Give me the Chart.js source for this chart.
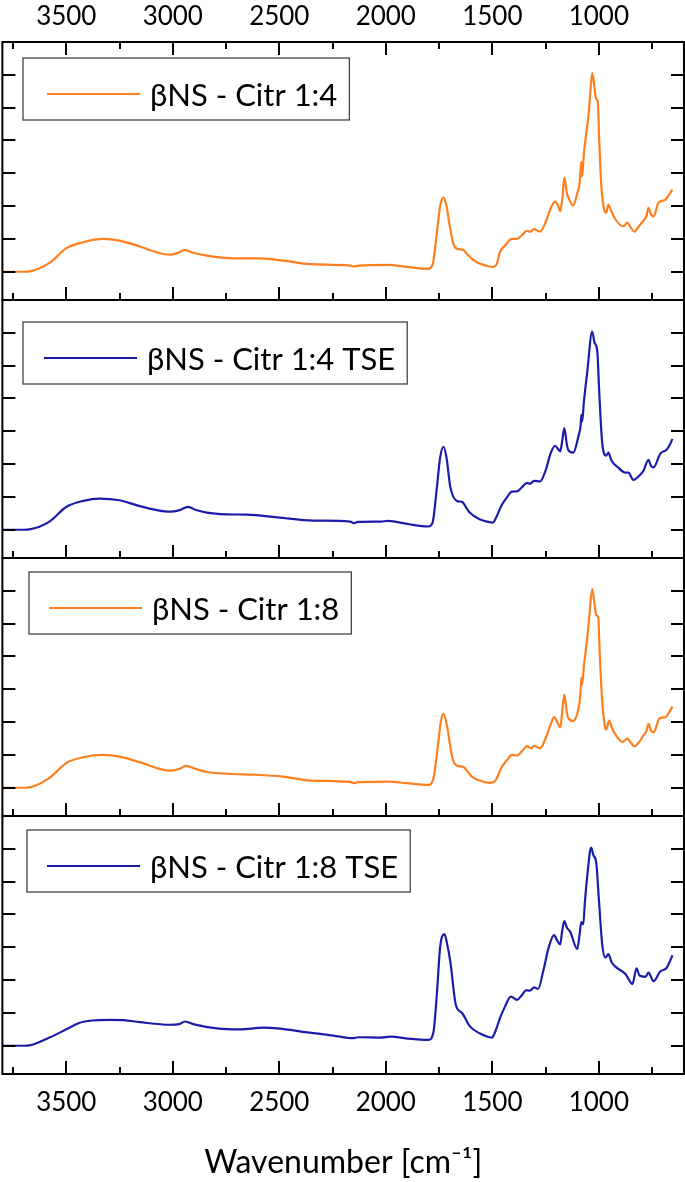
<!DOCTYPE html>
<html>
<head>
<meta charset="utf-8">
<script src="https://cdn.jsdelivr.net/npm/chart.js@4/dist/chart.umd.min.js"></script>
<style>
  html, body { margin: 0; padding: 0; background: #fff; }
  #contenedor { position: relative; width: 685px; height: 1182px; }
</style>
</head>
<body>
<div id="contenedor"><canvas id="graficoFTIR"></canvas></div>
<script>
// Espectros FTIR (numero de onda en cm-1, intensidad en unidades de tick)
const etiquetas = ["βNS - Citr 1:4", "βNS - Citr 1:4 TSE", "βNS - Citr 1:8", "βNS - Citr 1:8 TSE"];

const ondaCitr14 = [3800, 3700, 3673, 3579, 3499, 3420, 3329, 3250, 3155, 3075, 3014, 2967, 2943, 2905, 2840, 2717, 2590, 2482, 2355, 2167, 2150, 2130, 1993, 1900, 1804, 1781, 1760, 1745, 1729, 1715, 1700, 1684, 1666, 1638, 1620, 1591, 1560, 1525, 1497, 1480, 1464, 1440, 1408, 1384, 1360, 1337, 1323, 1304, 1276, 1250, 1225, 1205, 1190, 1181, 1170, 1162, 1150, 1134, 1120, 1101, 1090, 1082, 1078, 1070, 1054, 1045, 1031, 1020, 1012, 1005, 998, 988, 975, 965, 955, 945, 922, 885, 866, 850, 833, 810, 790, 776, 767, 755, 743, 720, 687, 670, 655];
const valCitr14 = [0, 0, 0.01, 0.27, 0.72, 0.9, 1.0, 0.95, 0.77, 0.59, 0.52, 0.6, 0.67, 0.58, 0.49, 0.41, 0.41, 0.34, 0.23, 0.19, 0.16, 0.19, 0.21, 0.15, 0.09, 0.2, 1.2, 2.0, 2.26, 2.0, 1.4, 0.88, 0.7, 0.67, 0.55, 0.37, 0.25, 0.18, 0.15, 0.22, 0.6, 0.8, 1.0, 1.0, 1.12, 1.25, 1.22, 1.3, 1.22, 1.5, 1.95, 2.14, 2.0, 1.84, 2.3, 2.87, 2.4, 2.14, 2.02, 2.4, 2.7, 3.36, 2.9, 3.6, 4.45, 5.0, 6.05, 5.6, 5.26, 5.2, 4.0, 2.6, 1.9, 1.8, 2.05, 1.9, 1.6, 1.38, 1.5, 1.35, 1.22, 1.4, 1.56, 1.7, 1.95, 1.75, 1.68, 2.1, 2.2, 2.35, 2.5];

const ondaCitr14TSE = [3800, 3700, 3673, 3579, 3499, 3420, 3343, 3250, 3155, 3075, 3014, 2967, 2929, 2890, 2840, 2750, 2651, 2510, 2341, 2167, 2150, 2130, 2026, 1988, 1900, 1800, 1781, 1760, 1745, 1729, 1715, 1697, 1666, 1642, 1620, 1605, 1560, 1525, 1497, 1480, 1455, 1430, 1408, 1384, 1360, 1337, 1323, 1304, 1276, 1250, 1225, 1205, 1190, 1181, 1172, 1162, 1150, 1144, 1120, 1096, 1085, 1082, 1078, 1070, 1054, 1031, 1020, 1007, 998, 984, 965, 955, 940, 913, 875, 861, 838, 810, 790, 767, 755, 743, 711, 682, 670, 654];
const valCitr14TSE = [0, 0, 0.01, 0.25, 0.7, 0.88, 0.95, 0.9, 0.72, 0.6, 0.55, 0.6, 0.7, 0.6, 0.52, 0.47, 0.46, 0.38, 0.28, 0.25, 0.2, 0.24, 0.25, 0.27, 0.18, 0.1, 0.2, 1.3, 2.2, 2.53, 2.2, 1.3, 0.88, 0.85, 0.65, 0.52, 0.32, 0.25, 0.22, 0.4, 0.76, 1.0, 1.16, 1.17, 1.3, 1.43, 1.4, 1.49, 1.47, 1.8, 2.35, 2.56, 2.45, 2.39, 2.7, 3.1, 2.6, 2.44, 2.35, 2.84, 3.2, 3.5, 3.3, 3.9, 4.82, 6.04, 5.7, 5.43, 4.2, 2.65, 2.26, 2.35, 2.1, 1.92, 1.74, 1.74, 1.52, 1.65, 1.8, 2.13, 1.95, 1.9, 2.32, 2.44, 2.55, 2.77];

const ondaCitr18 = [3800, 3700, 3673, 3579, 3499, 3420, 3329, 3250, 3155, 3075, 3014, 2967, 2938, 2890, 2840, 2720, 2623, 2482, 2355, 2167, 2150, 2130, 2026, 1988, 1900, 1800, 1776, 1755, 1742, 1729, 1711, 1688, 1666, 1638, 1596, 1560, 1511, 1488, 1455, 1430, 1408, 1384, 1360, 1337, 1318, 1304, 1276, 1250, 1225, 1210, 1195, 1181, 1172, 1162, 1150, 1144, 1120, 1096, 1087, 1082, 1078, 1070, 1054, 1045, 1031, 1020, 1012, 1003, 995, 984, 972, 965, 951, 940, 922, 889, 866, 850, 833, 810, 790, 775, 767, 755, 743, 715, 687, 670, 654];
const valCitr18 = [0, 0, 0.01, 0.3, 0.76, 0.93, 1.0, 0.95, 0.78, 0.6, 0.52, 0.58, 0.67, 0.57, 0.48, 0.42, 0.4, 0.34, 0.22, 0.18, 0.14, 0.17, 0.18, 0.19, 0.14, 0.09, 0.3, 1.3, 2.0, 2.26, 1.83, 0.92, 0.67, 0.64, 0.34, 0.22, 0.15, 0.2, 0.64, 0.85, 1.0, 0.98, 1.12, 1.27, 1.2, 1.28, 1.2, 1.5, 1.95, 2.15, 2.0, 1.84, 2.3, 2.84, 2.3, 2.13, 2.03, 2.4, 2.8, 3.35, 3.15, 3.7, 4.58, 5.2, 6.05, 5.6, 5.26, 5.2, 4.0, 2.63, 1.9, 1.77, 2.05, 1.85, 1.62, 1.4, 1.5, 1.38, 1.26, 1.4, 1.6, 1.75, 1.95, 1.75, 1.69, 2.11, 2.15, 2.3, 2.47];

const ondaCitr18TSE = [3800, 3700, 3673, 3579, 3500, 3437, 3380, 3296, 3230, 3155, 3014, 2970, 2943, 2900, 2793, 2684, 2576, 2510, 2369, 2247, 2153, 2130, 2026, 1978, 1900, 1800, 1776, 1760, 1745, 1725, 1712, 1697, 1671, 1642, 1605, 1560, 1502, 1485, 1464, 1440, 1413, 1384, 1360, 1342, 1323, 1304, 1285, 1260, 1235, 1210, 1195, 1181, 1172, 1162, 1150, 1134, 1101, 1090, 1082, 1073, 1065, 1054, 1036, 1025, 1012, 1000, 984, 969, 955, 940, 922, 875, 842, 823, 809, 781, 767, 743, 711, 682, 654];
const valCitr18TSE = [0, 0, 0.01, 0.25, 0.5, 0.7, 0.77, 0.79, 0.78, 0.72, 0.64, 0.66, 0.74, 0.65, 0.53, 0.5, 0.55, 0.53, 0.41, 0.31, 0.23, 0.26, 0.25, 0.28, 0.22, 0.18, 0.43, 1.6, 3.0, 3.4, 3.1, 2.56, 1.24, 1.0, 0.59, 0.38, 0.25, 0.45, 0.84, 1.2, 1.5, 1.4, 1.55, 1.69, 1.68, 1.78, 1.73, 2.3, 3.0, 3.37, 3.2, 3.09, 3.5, 3.8, 3.6, 3.47, 2.95, 3.4, 3.77, 3.7, 4.4, 5.18, 6.04, 5.8, 5.58, 4.5, 3.09, 2.69, 2.79, 2.55, 2.41, 2.19, 1.88, 2.36, 2.14, 2.1, 2.23, 1.97, 2.27, 2.37, 2.76];

const ondas = [ondaCitr14, ondaCitr14TSE, ondaCitr18, ondaCitr18TSE];
const valores = [valCitr14, valCitr14TSE, valCitr18, valCitr18TSE];
const colores = ["#ff7f1e", "#1c1cab", "#ff7f1e", "#1c1cab"];

// marcas de los ejes (las de 500 llevan numero)
const ticksX = [3750, 3500, 3250, 3000, 2750, 2500, 2250, 2000, 1750, 1500, 1250, 1000, 750];
const ticksY = [0, 1, 2, 3, 4, 5, 6];

const ejesY = ["y1", "y2", "y3", "y4"];

// posicion de cada caja de leyenda (relativa al panel)
const cajas = [
  { x: 23, dy: 16, lineaX: 24 },
  { x: 23, dy: 22, lineaX: 21 },
  { x: 29, dy: 14, lineaX: 20 },
  { x: 27, dy: 14, lineaX: 20 }
];

const fuente = "Lato, 'Open Sans', sans-serif";

const datasets = valores.map((serie, i) => ({
  label: etiquetas[i],
  data: serie.map((v, j) => ({ x: ondas[i][j], y: v })),
  borderColor: colores[i],
  borderWidth: 2.2,
  pointRadius: 0,
  fill: false,
  cubicInterpolationMode: "monotone",
  xAxisID: "x",
  yAxisID: ejesY[i]
}));

const ejeY = (peso) => ({
  type: "linear",
  stack: "paneles",
  stackWeight: 1,
  weight: peso,
  position: "left",
  min: -0.86,
  max: 7,
  afterBuildTicks: (s) => { s.ticks = ticksY.map((v) => ({ value: v })); },
  ticks: { display: false },
  grid: { display: false, drawTicks: false },
  border: { display: false },
  afterFit: (s) => { s.width = 0; }
});

const ejeX = (pos, alto, relleno, extra) => Object.assign({
  type: "linear",
  position: pos,
  min: 600,
  max: 3800,
  reverse: true,
  afterBuildTicks: (s) => { s.ticks = ticksX.map((v) => ({ value: v })); },
  ticks: {
    autoSkip: false,
    maxRotation: 0,
    padding: relleno,
    color: "#000",
    font: { family: fuente, size: 26 },
    callback: (v) => (v % 500 === 0 ? String(v) : "")
  },
  grid: { display: false, drawTicks: false },
  border: { display: false },
  afterFit: (s) => { s.height = alto; }
}, extra);

function linea(ctx, x1, y1, x2, y2) {
  ctx.beginPath();
  ctx.moveTo(x1, y1);
  ctx.lineTo(x2, y2);
  ctx.stroke();
}

const marcos = {
  id: "marcos",
  afterDatasetsDraw(chart) {
    const ctx = chart.ctx;
    const sx = chart.scales.x;
    const izq = chart.chartArea.left;
    const der = chart.chartArea.right;
    ejesY.forEach((id, i) => {
      const sy = chart.scales[id];
      ctx.save();
      ctx.strokeStyle = "#000";
      ctx.lineWidth = 2;
      ctx.strokeRect(izq, sy.top, der - izq, sy.bottom - sy.top);
      sy.ticks.forEach((t) => {
        const py = Math.round(sy.getPixelForValue(t.value));
        linea(ctx, izq, py, izq + 13, py);
        linea(ctx, der, py, der - 13, py);
      });
      sx.ticks.forEach((t) => {
        const px = Math.round(sx.getPixelForValue(t.value));
        const largo = t.value % 500 === 0 ? 13 : 7;
        linea(ctx, px, sy.bottom, px, sy.bottom - largo);
        if (i === 0) linea(ctx, px, sy.top, px, sy.top + largo);
      });

      // leyenda de cada panel
      const c = cajas[i];
      const top = sy.top + c.dy;
      const yl = top + 36;
      ctx.font = "31px " + fuente;
      const xt = c.x + c.lineaX + 93 + 10;
      const ancho = xt + ctx.measureText(etiquetas[i]).width + 12 - c.x;
      ctx.strokeStyle = "#444";
      ctx.lineWidth = 1.3;
      ctx.strokeRect(c.x, top, ancho, 62);
      ctx.strokeStyle = colores[i];
      ctx.lineWidth = 2;
      linea(ctx, c.x + c.lineaX, yl, c.x + c.lineaX + 93, yl);
      ctx.fillStyle = "#000";
      ctx.textBaseline = "middle";
      ctx.fillText(etiquetas[i], xt, yl + 2);
      ctx.restore();
    });
  }
};

new Chart(document.getElementById("graficoFTIR"), {
  type: "line",
  data: { datasets: datasets },
  options: {
    responsive: true,
    maintainAspectRatio: false,
    animation: false,
    layout: { padding: { left: -1, right: 1, top: 0, bottom: 0 } },
    plugins: { legend: { display: false }, tooltip: { enabled: false } },
    scales: {
      x: ejeX("bottom", 108, 13, {
        title: {
          display: true,
          text: "Wavenumber [cm⁻¹]",
          color: "#000",
          font: { family: fuente, size: 32 },
          padding: { top: 10, bottom: 0 }
        }
      }),
      xTop: ejeX("top", 42, 10, {}),
      y1: ejeY(4),
      y2: ejeY(3),
      y3: ejeY(2),
      y4: ejeY(1)
    }
  },
  plugins: [marcos]
});
</script>
</body>
</html>
